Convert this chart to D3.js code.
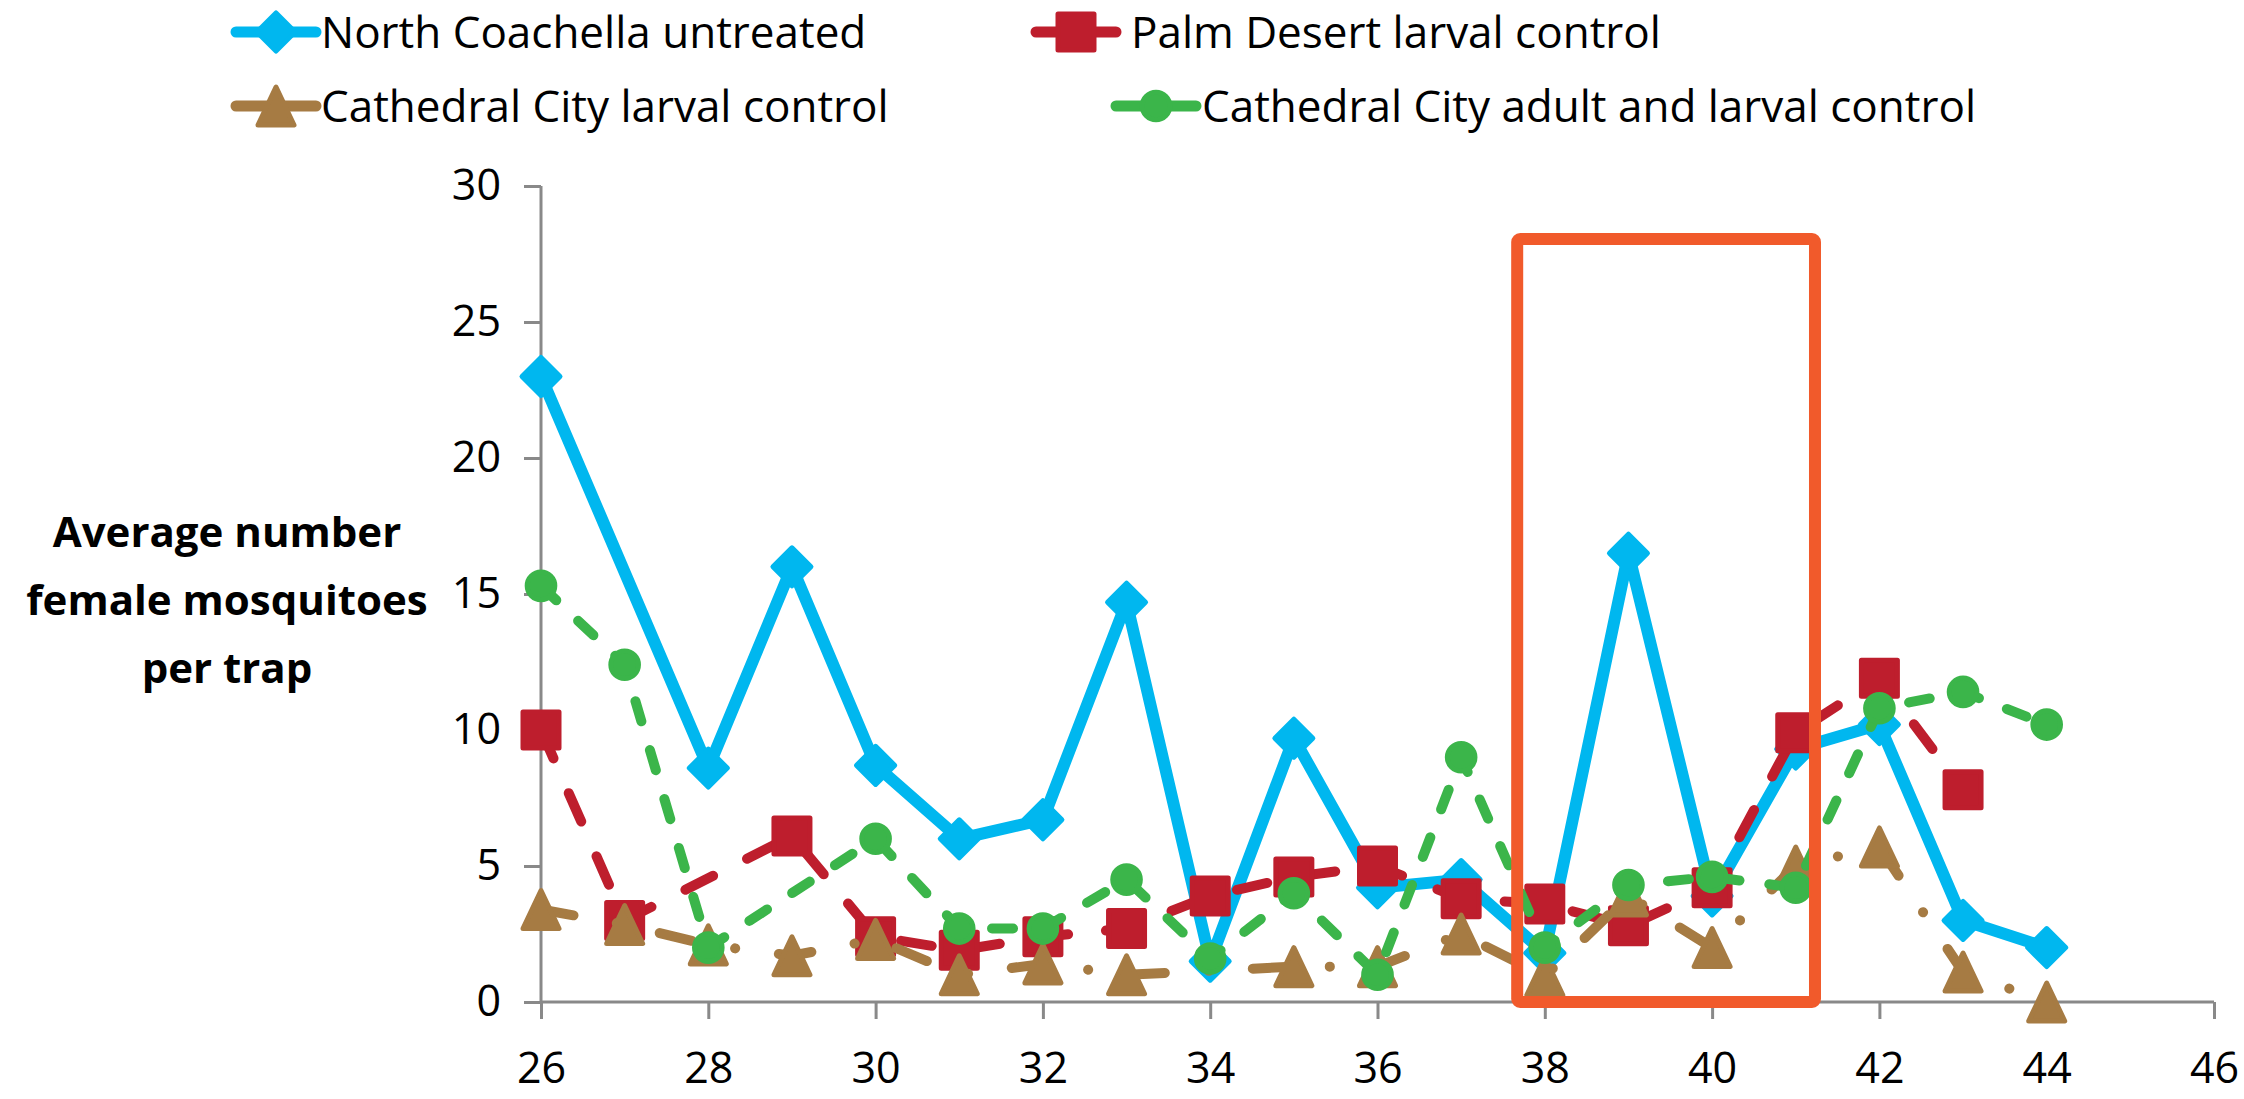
<!DOCTYPE html>
<html>
  <head>
    <meta charset="utf-8" />
    <title>Female mosquitoes per trap</title>
    <script src="https://d3js.org/d3.v7.min.js"></script>
    <style>
      body { margin: 0; background: #fff; }
      text { font-family: "Open Sans", "Noto Sans", sans-serif; fill: #000; }
    </style>
  </head>
  <body>
    <svg id="chart" width="2244" height="1099"></svg>
  </body>
  <script>
    // data (null = no point that week)
    var weeks = [26, 27, 28, 29, 30, 31, 32, 33, 34, 35, 36, 37, 38, 39, 40, 41, 42, 43, 44];
    var northCoachella = [23.0, null, 8.6, 16.0, 8.7, 6.0, 6.7, 14.7, 1.5, 9.7, 4.2, 4.5, 1.8, 16.5, 3.9, 9.3, 10.2, 3.0, 2.0];
    var palmDesert = [10.0, 3.0, null, 6.1, 2.4, 1.9, 2.4, 2.7, 3.9, 4.6, 5.0, 3.8, 3.6, 2.8, 4.2, 9.9, 11.9, 7.8, null];
    var cathedralLarval = [3.4, 2.85, 2.1, 1.7, 2.3, 1.0, 1.4, 1.0, null, 1.3, 1.3, 2.5, 0.95, 3.9, 2.0, 5.0, 5.7, 1.1, 0.0];
    var cathedralAdult = [15.3, 12.4, 2.0, null, 6.0, 2.7, 2.7, 4.5, 1.6, 4.0, 1.0, 9.0, 2.0, 4.3, 4.6, 4.2, 10.8, 11.4, 10.2];

    var seriesNames = ["North Coachella untreated", "Palm Desert larval control",
                       "Cathedral City larval control", "Cathedral City adult and larval control"];
    var xTicks = [26, 28, 30, 32, 34, 36, 38, 40, 42, 44, 46];
    var yTicks = [0, 5, 10, 15, 20, 25, 30];
    var yTitle = ["Average number", "female mosquitoes", "per trap"];
    // highlighted weeks box
    var boxWeeks = [37.67, 41.23];
    var boxValues = [0, 28.05];

    var series = [
      { name: seriesNames[0], values: northCoachella, color: "#00B7EF", dash: null, shape: "diamond" },
      { name: seriesNames[1], values: palmDesert, color: "#BE1E2D", dash: "31,38", shape: "square" },
      { name: seriesNames[2], values: cathedralLarval, color: "#A67B43", dash: "33,44,0.1,44", shape: "triangle" },
      { name: seriesNames[3], values: cathedralAdult, color: "#3BB54A", dash: "21,30", shape: "circle" }
    ];

    var svg = d3.select("#chart");

    var x = d3.scaleLinear().domain([26, 46]).range([541, 2214]);
    var y = d3.scaleLinear().domain([0, 30]).range([1002, 186]);

    // marker outlines, centred on their bounding box like the original
    var symbolFor = function(shape) {
      if (shape == "diamond") return "M0,-19L19,0L0,19L-19,0Z";
      if (shape == "square") return "M-18,-18H18V18H-18Z";
      if (shape == "triangle") return "M0,-19L18,19H-18Z";
      return d3.symbol().type(d3.symbolCircle).size(600)();
    };

    // axes
    var yAxis = d3.axisLeft(y).tickValues(yTicks).tickSize(17).tickPadding(23);
    var gy = svg.append("g").attr("transform", "translate(541,0)").call(yAxis);
    var xAxis = d3.axisBottom(x).tickValues(xTicks).tickSize(17).tickPadding(33);
    var gx = svg.append("g").attr("transform", "translate(0,1002)").call(xAxis);
    [gx, gy].forEach(function(g) {
      g.select(".domain").attr("stroke", "#898989").attr("stroke-width", 3);
      g.selectAll(".tick line").attr("stroke", "#898989").attr("stroke-width", 3);
      g.selectAll(".tick text").style("font-size", "43px").attr("fill", "#000");
    });
    gx.select(".domain").attr("d", "M541,0H2214");
    gy.select(".domain").attr("d", "M0,186V1002");

    // y title
    svg.append("text")
      .attr("text-anchor", "middle")
      .style("font-size", "42px")
      .style("font-weight", "bold")
      .selectAll("tspan").data(yTitle).enter().append("tspan")
      .attr("x", 227)
      .attr("y", function(d, i) { return 547 + i * 68; })
      .text(function(d) { return d; });

    // lines + markers, drawn series by series
    series.forEach(function(s) {
      var pts = weeks.map(function(w, i) { return { w: w, v: s.values[i] }; })
        .filter(function(p) { return p.v != null; });
      var line = d3.line().x(function(p) { return x(p.w); }).y(function(p) { return y(p.v); });
      svg.append("path")
        .attr("d", line(pts))
        .attr("fill", "none")
        .attr("stroke", s.color)
        .attr("stroke-width", s.dash ? 10 : 12)
        .attr("stroke-linecap", "round")
        .attr("stroke-linejoin", "round")
        .attr("stroke-dasharray", s.dash);
      svg.selectAll(null).data(pts).enter().append("path")
        .attr("d", symbolFor(s.shape))
        .attr("transform", function(p) { return "translate(" + x(p.w) + "," + y(p.v) + ")"; })
        .attr("fill", s.color)
        .attr("stroke", s.color)
        .attr("stroke-width", 5)
        .attr("stroke-linejoin", "round");
    });

    // orange highlight box
    svg.append("rect")
      .attr("x", x(boxWeeks[0]))
      .attr("y", y(boxValues[1]))
      .attr("width", x(boxWeeks[1]) - x(boxWeeks[0]))
      .attr("height", y(boxValues[0]) - y(boxValues[1]))
      .attr("fill", "none")
      .attr("stroke", "#F15A2B")
      .attr("stroke-width", 12)
      .attr("rx", 3);

    // legend
    var legendMark = [[276, 32], [1076, 32], [276, 106], [1156, 106]];
    var legendText = [321, 1131, 321, 1202];
    series.forEach(function(s, i) {
      var g = svg.append("g").attr("transform", "translate(" + legendMark[i][0] + "," + legendMark[i][1] + ")");
      g.append("line")
        .attr("x1", -40).attr("x2", 40).attr("y1", 0).attr("y2", 0)
        .attr("stroke", s.color).attr("stroke-width", 11).attr("stroke-linecap", "round");
      g.append("path")
        .attr("d", symbolFor(s.shape))
        .attr("fill", s.color).attr("stroke", s.color)
        .attr("stroke-width", 5).attr("stroke-linejoin", "round");
      svg.append("text")
        .attr("x", legendText[i])
        .attr("y", legendMark[i][1] + 16)
        .style("font-size", "44px")
        .text(s.name);
    });
  </script>
</html>
